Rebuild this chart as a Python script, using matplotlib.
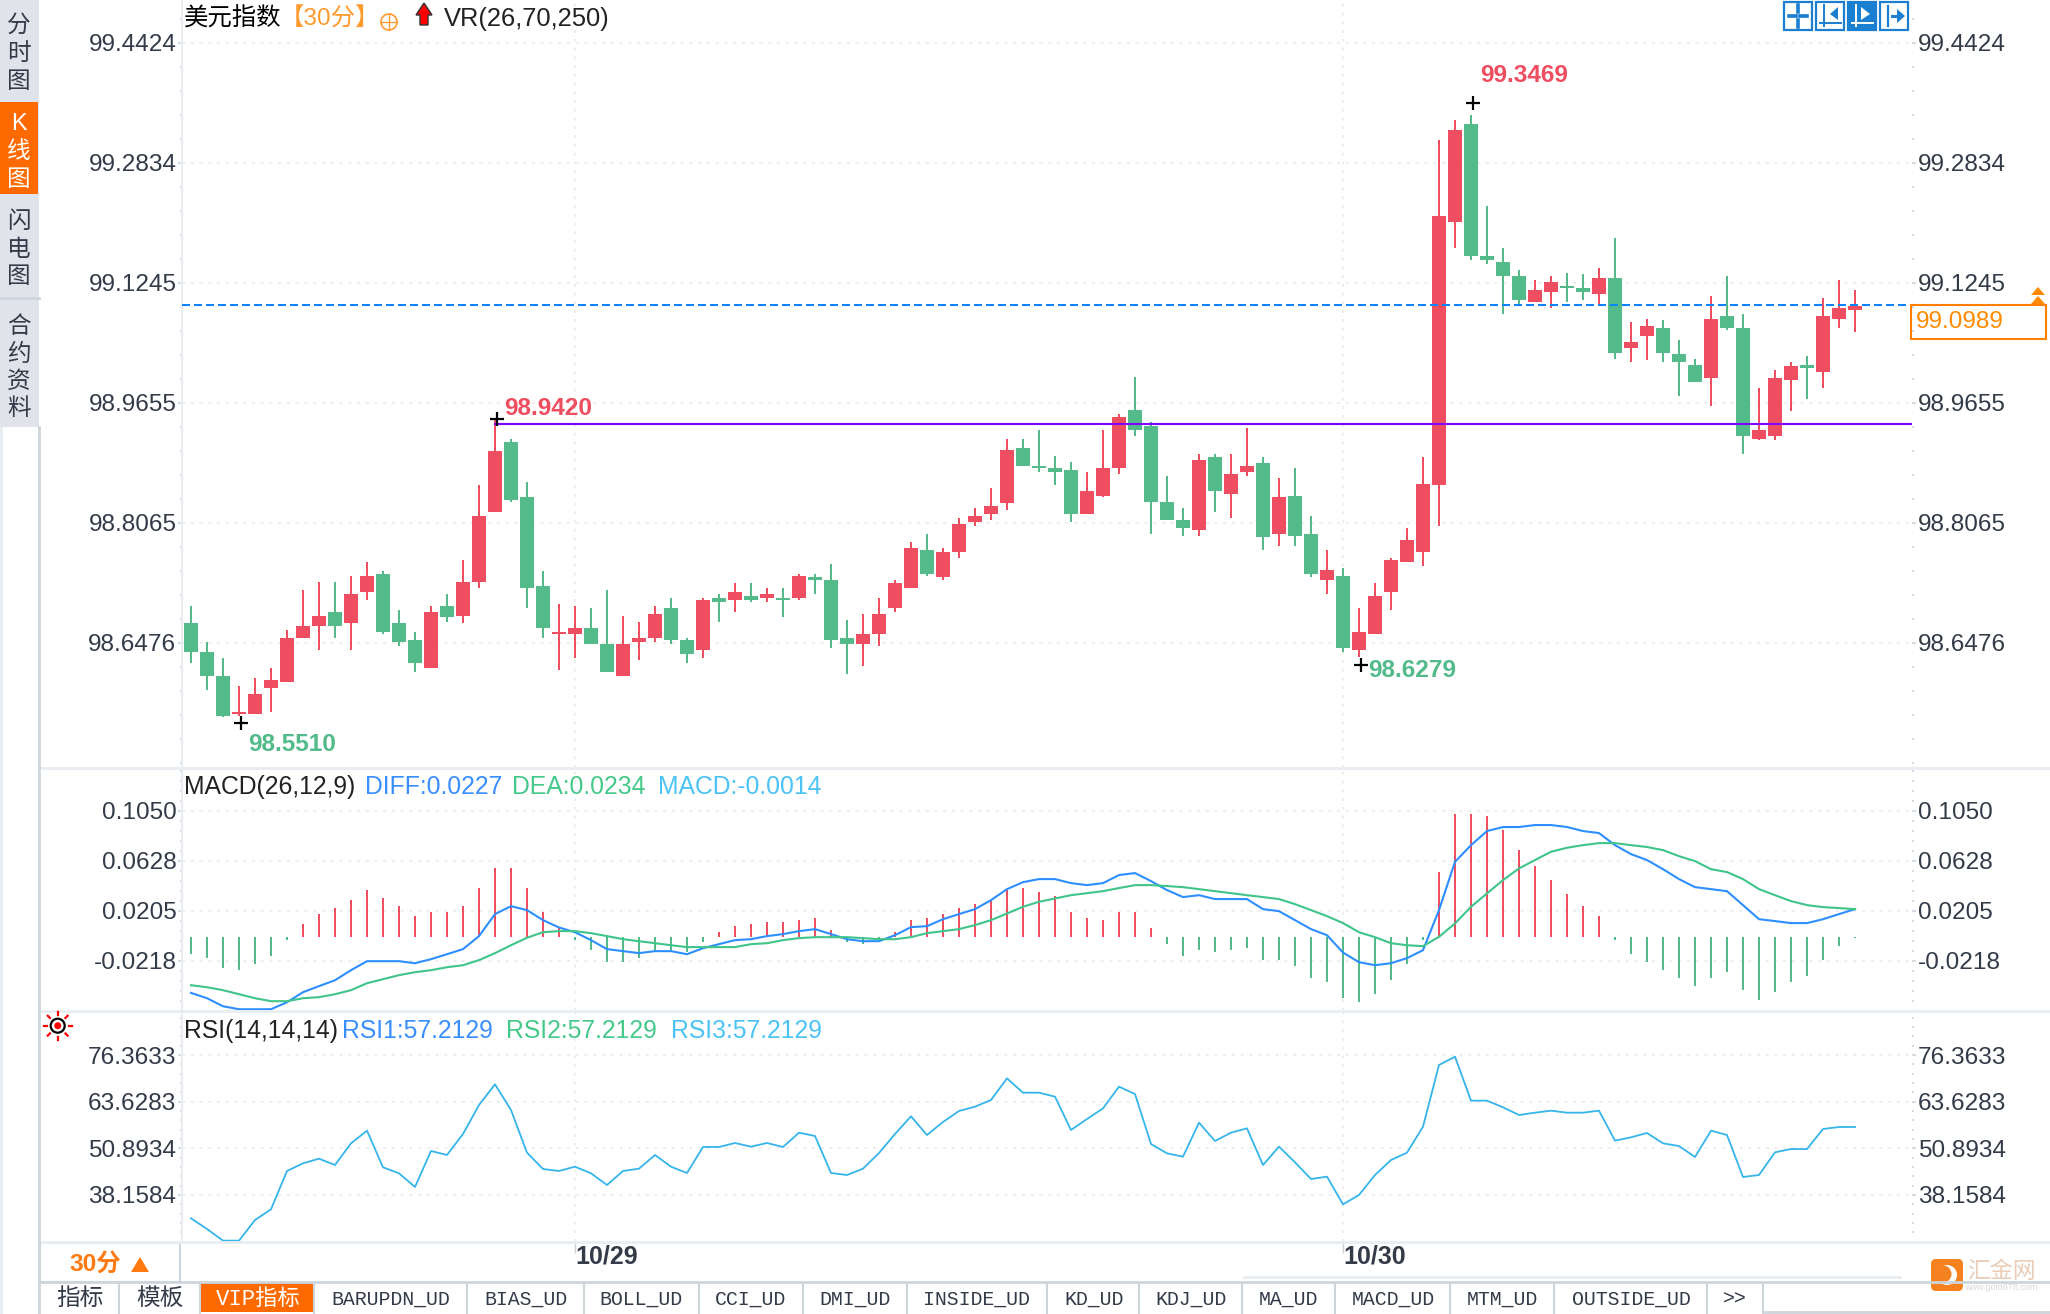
import matplotlib
matplotlib.use("Agg")
import matplotlib.pyplot as plt
import numpy as np
from matplotlib.patches import Rectangle, Circle, Polygon, FancyBboxPatch
from matplotlib.ticker import FixedLocator

plt.rcParams['font.family'] = ['Liberation Sans', 'Noto Sans CJK SC', 'DejaVu Sans']

# candles, 30 min bars
opens = [98.673,98.635,98.604,98.553,98.553,98.588,98.596,98.654,98.670,98.688,
         98.673,98.715,98.739,98.673,98.651,98.614,98.696,98.683,98.728,98.821,
         98.914,98.840,98.723,98.659,98.659,98.667,98.646,98.604,98.649,98.654,
         98.694,98.651,98.638,98.707,98.704,98.710,98.707,98.707,98.707,98.734,
         98.731,98.654,98.646,98.659,98.694,98.720,98.771,98.734,98.768,98.808,
         98.818,98.832,98.906,98.882,98.879,98.877,98.818,98.842,98.879,98.956,
         98.935,98.834,98.810,98.797,98.893,98.845,98.874,98.885,98.792,98.842,
         98.792,98.731,98.736,98.638,98.659,98.715,98.755,98.768,98.857,99.205,
         99.335,99.160,99.152,99.133,99.099,99.112,99.120,99.117,99.109,99.131,
         99.038,99.054,99.064,99.030,99.016,98.998,99.080,99.064,98.918,98.921,
         98.995,99.016,99.006,99.077,99.088]
closes = [98.635,98.604,98.551,98.556,98.580,98.598,98.654,98.670,98.683,98.670,
          98.712,98.736,98.662,98.649,98.620,98.688,98.681,98.728,98.816,98.901,
          98.837,98.720,98.667,98.662,98.667,98.646,98.609,98.646,98.654,98.686,
          98.651,98.633,98.704,98.702,98.715,98.704,98.712,98.704,98.736,98.731,
          98.651,98.646,98.659,98.686,98.726,98.773,98.739,98.768,98.805,98.816,
          98.829,98.903,98.882,98.879,98.874,98.818,98.848,98.879,98.946,98.930,
          98.834,98.810,98.800,98.890,98.848,98.871,98.882,98.787,98.840,98.789,
          98.739,98.744,98.641,98.662,98.710,98.757,98.784,98.858,99.213,99.327,
          99.160,99.154,99.133,99.101,99.115,99.125,99.117,99.112,99.131,99.032,
          99.046,99.067,99.032,99.019,98.993,99.077,99.064,98.921,98.929,98.998,
          99.014,99.011,99.080,99.091,99.093]
highs = [98.696,98.649,98.627,98.590,98.601,98.614,98.665,98.718,98.728,98.728,
         98.736,98.755,98.742,98.691,98.662,98.696,98.712,98.757,98.856,98.942,
         98.917,98.861,98.742,98.699,98.696,98.694,98.718,98.683,98.675,98.696,
         98.707,98.654,98.707,98.712,98.726,98.726,98.720,98.720,98.739,98.739,
         98.752,98.678,98.686,98.707,98.731,98.781,98.792,98.773,98.813,98.826,
         98.853,98.917,98.917,98.930,98.895,98.887,98.874,98.930,98.951,98.999,
         98.940,98.869,98.826,98.898,98.898,98.898,98.932,98.893,98.866,98.879,
         98.816,98.771,98.747,98.694,98.726,98.760,98.800,98.893,99.314,99.340,
         99.347,99.226,99.170,99.141,99.128,99.133,99.138,99.136,99.144,99.184,
         99.072,99.077,99.075,99.048,99.024,99.107,99.133,99.083,98.985,99.009,
         99.019,99.027,99.104,99.128,99.115]
lows = [98.620,98.585,98.549,98.551,98.553,98.556,98.596,98.654,98.638,98.654,
        98.638,98.704,98.659,98.643,98.609,98.614,98.675,98.673,98.720,98.821,
        98.834,98.694,98.654,98.612,98.627,98.646,98.609,98.604,98.625,98.649,
        98.646,98.620,98.627,98.675,98.688,98.702,98.702,98.681,98.704,98.712,
        98.641,98.606,98.617,98.643,98.688,98.720,98.736,98.731,98.760,98.802,
        98.810,98.824,98.882,98.874,98.856,98.808,98.818,98.840,98.871,98.922,
        98.792,98.810,98.789,98.789,98.821,98.813,98.869,98.771,98.776,98.776,
        98.734,98.712,98.635,98.628,98.659,98.691,98.755,98.749,98.802,99.170,
        99.154,99.149,99.083,99.096,99.099,99.091,99.099,99.101,99.096,99.024,
        99.019,99.022,99.019,98.974,98.993,98.961,99.062,98.897,98.916,98.916,
        98.955,98.971,98.985,99.064,99.059]

# MACD panel
diff = [-.0490,-.0535,-.0603,-.0628,-.0628,-.0628,-.0569,-.0484,-.0433,-.0383,
        -.0298,-.0222,-.0222,-.0222,-.0239,-.0205,-.0163,-.0120,-.0010,.0176,
        .0243,.0210,.0125,.0063,.0023,-.0044,-.0120,-.0137,-.0154,-.0137,
        -.0137,-.0163,-.0112,-.0078,-.0044,-.0036,-.0010,.0007,.0032,.0049,
        .0007,-.0036,-.0053,-.0053,-.0002,.0066,.0074,.0133,.0176,.0218,
        .0294,.0387,.0446,.0472,.0472,.0438,.0421,.0438,.0506,.0523,
        .0455,.0379,.0320,.0336,.0303,.0303,.0303,.0218,.0201,.0125,
        .0049,-.0002,-.0149,-.0230,-.0256,-.0239,-.0196,-.0129,.0210,.0618,
        .0759,.0878,.0912,.0912,.0929,.0929,.0912,.0878,.0861,.0759,
        .0683,.0633,.0556,.0472,.0404,.0387,.0370,.0252,.0133,.0117,
        .0100,.0100,.0133,.0176,.0218]
dea = [-.0425,-.0442,-.0467,-.0501,-.0535,-.0560,-.0560,-.0535,-.0526,-.0501,
       -.0467,-.0408,-.0374,-.0340,-.0315,-.0298,-.0273,-.0256,-.0213,-.0154,
       -.0087,-.0024,.0023,.0032,.0032,.0015,-.0010,-.0036,-.0053,-.0070,
       -.0087,-.0103,-.0103,-.0103,-.0103,-.0078,-.0070,-.0044,-.0027,-.0019,
       -.0019,-.0019,-.0027,-.0036,-.0036,-.0019,.0015,.0032,.0049,.0083,
       .0125,.0181,.0238,.0280,.0308,.0336,.0353,.0370,.0396,.0421,
       .0421,.0413,.0404,.0387,.0370,.0353,.0336,.0320,.0303,.0260,
       .0210,.0159,.0100,.0023,-.0019,-.0070,-.0087,-.0095,-.0016,.0097,
       .0238,.0351,.0463,.0562,.0633,.0703,.0737,.0759,.0776,.0776,
       .0759,.0743,.0717,.0666,.0624,.0556,.0531,.0472,.0387,.0336,
       .0286,.0252,.0235,.0227,.0218]
macd_hist = [-.0147,-.0180,-.0265,-.0282,-.0231,-.0164,-.0028,.0107,.0192,.0243,
             .0310,.0395,.0327,.0259,.0175,.0209,.0209,.0259,.0412,.0581,
             .0581,.0412,.0209,.0073,-.0028,-.0113,-.0214,-.0214,-.0180,-.0130,
             -.0130,-.0130,-.0045,.0039,.0090,.0107,.0124,.0124,.0141,.0158,
             .0056,-.0045,-.0062,-.0045,.0039,.0141,.0158,.0192,.0243,.0276,
             .0310,.0395,.0412,.0378,.0344,.0209,.0158,.0141,.0209,.0209,
             .0073,-.0062,-.0164,-.0113,-.0130,-.0113,-.0096,-.0197,-.0197,-.0248,
             -.0350,-.0384,-.0519,-.0553,-.0485,-.0367,-.0231,-.0028,.0547,.1038,
             .1038,.1021,.0902,.0733,.0598,.0479,.0361,.0259,.0175,-.0028,
             -.0147,-.0214,-.0282,-.0350,-.0417,-.0350,-.0299,-.0451,-.0536,-.0468,
             -.0384,-.0333,-.0197,-.0079,-.0011]

# RSI panel
rsi = [31.78,28.86,25.68,25.68,31.32,34.23,44.70,46.79,48.06,46.33,
       52.25,55.71,45.70,44.06,40.33,50.16,49.06,54.80,62.71,68.36,
       61.35,49.70,45.24,44.70,45.88,44.06,40.87,44.70,45.33,49.06,
       45.88,44.15,51.25,51.25,52.34,51.34,52.34,51.25,55.16,54.25,
       44.15,43.60,45.33,49.61,54.80,59.62,54.52,58.07,61.08,62.26,
       64.08,69.99,66.08,66.08,64.99,55.89,58.89,61.80,67.72,65.72,
       52.07,49.52,48.61,57.89,52.89,55.16,56.34,46.33,51.34,47.06,
       42.51,43.15,35.60,38.14,43.60,47.70,49.70,56.80,73.63,75.91,
       63.90,63.90,62.08,59.98,60.62,61.17,60.62,60.62,61.17,52.98,
       53.89,55.07,52.25,51.52,48.52,55.71,54.52,43.06,43.60,49.79,
       50.70,50.70,56.16,56.71,56.71]

price_ticks = [99.4424, 99.2834, 99.1245, 98.9655, 98.8065, 98.6476]
macd_ticks = [0.1050, 0.0628, 0.0205, -0.0218]
rsi_ticks = [76.3633, 63.6283, 50.8934, 38.1584]
day_idx = [24, 72]
day_labels = ["10/29", "10/30"]
side_tabs = [("分时图", [26, 54, 82]), ("K线图", [124, 152, 180]),
             ("闪电图", [222, 250, 277]), ("合约资料", [327, 355, 382, 409])]
cn_tabs = [("指标", 80), ("模板", 160)]
code_tabs = [("BARUPDN_UD", 391), ("BIAS_UD", 526), ("BOLL_UD", 641), ("CCI_UD", 751),
             ("DMI_UD", 855), ("INSIDE_UD", 976), ("KD_UD", 1094), ("KDJ_UD", 1191),
             ("MA_UD", 1288), ("MACD_UD", 1393), ("MTM_UD", 1502), ("OUTSIDE_UD", 1631),
             (">>", 1735)]
tab_seps = [119, 200, 314, 467, 584, 699, 803, 907, 1047, 1139, 1242, 1335, 1450, 1554, 1707, 1763]

RED = "#EE4E5F"
GREEN = "#53BA8A"
TEXT = "#333B49"
LINE = "#E8EDF2"
BORDER = "#CDD5DC"
ORANGE = "#FF6A00"
W, H = 2050, 1314
X0, X1 = 182, 1912


def panel(y0, y1):
    ax = fig.add_axes([X0 / W, 1 - y1 / H, (X1 - X0) / W, (y1 - y0) / H])
    ax.set_xlim((X0 - 191) / 16, (X1 - 191) / 16)
    for s in ["top", "bottom", "right"]:
        ax.spines[s].set_visible(False)
    ax.spines["left"].set_color(LINE)
    ax.spines["left"].set_linewidth(1.5)
    ax.set_xticks([])
    ax.set_facecolor("none")
    return ax


def style_y(ax, ticks, minor_step):
    ax.set_yticks(ticks, [f"{t:.4f}" for t in ticks])
    lo, hi = ax.get_ylim()
    start = ticks[0]
    minors = [start + minor_step * k for k in range(-12, 40)]
    ax.yaxis.set_minor_locator(FixedLocator([m for m in minors if lo < m < hi]))
    ax.tick_params(axis="y", which="major", left=True, right=True, labelleft=True, labelright=True,
                   length=3, width=1.4, color="#D5DBE1", labelsize=17.6, labelcolor=TEXT, pad=1)
    ax.tick_params(axis="y", which="minor", left=True, right=True, length=1.5, width=1.4, color="#D5DBE1")
    ax.grid(axis="y", which="major", color="#EEEEEE", linestyle=(0, (1.5, 3)), linewidth=1.4)
    ax.set_axisbelow(True)
    for d in day_idx:
        ax.axvline(d, color="#EEEEEE", linestyle=(0, (1.5, 3)), linewidth=1.4, zorder=0)


fig = plt.figure(figsize=(W / 100, H / 100), dpi=100, facecolor="white")

# main candle panel
ax1 = panel(0, 768)
ax1.set_ylim(98.4815, 99.4991)
style_y(ax1, price_ticks, -0.0318)
x = np.arange(len(opens))
o, c, hi, lo = map(np.array, (opens, closes, highs, lows))
col = [RED if cc >= oo else GREEN for oo, cc in zip(o, c)]
ax1.vlines(x, lo, hi, colors=col, linewidth=1.44, zorder=3)
ax1.bar(x, np.abs(c - o), bottom=np.minimum(o, c), width=0.875, color=col, linewidth=0, zorder=3)
ax1.plot([19, (X1 - 191) / 16], [98.9368, 98.9368], color="#8000FF", linewidth=1.5, zorder=4)
ax1.plot([(X0 - 191) / 16, (1910 - 191) / 16], [99.095, 99.095], color="#0A84FF", linewidth=1.44,
         linestyle=(0, (4, 2)), zorder=4)

# high/low flags
ax1.plot([3.1, 19.1, 73.1, 80.1], [98.5415, 98.9445, 98.6175, 99.3625], "+", color="black", ms=10, mew=1.6, zorder=5)
ax1.text(3.6, 98.5125, "98.5510", color=GREEN, fontsize=17.6, fontweight="bold", va="center")
ax1.text(19.55, 98.9585, "98.9420", color=RED, fontsize=17.6, fontweight="bold", va="center")
ax1.text(73.55, 98.6110, "98.6279", color=GREEN, fontsize=17.6, fontweight="bold", va="center")
ax1.text(80.55, 99.3995, "99.3469", color=RED, fontsize=17.6, fontweight="bold", va="center")

# MACD panel
ax2 = panel(768, 1011)
ax2.set_ylim(-0.0643, 0.1411)
style_y(ax2, macd_ticks, -0.00845)
hist = np.array(macd_hist)
base = -0.0016
hist_col = [RED if h > 0 else GREEN for h in hist]
ax2.vlines(x, base, base + hist, colors=hist_col, linewidth=1.44, zorder=2)
ax2.plot(x, diff, color="#2D8FFF", linewidth=1.5, zorder=3)
ax2.plot(x, dea, color="#3FC48A", linewidth=1.5, zorder=3)

# RSI panel
ax3 = panel(1011, 1242)
ax3.set_ylim(25.31, 88.38)
style_y(ax3, rsi_ticks, -2.547)
ax3.plot(x, rsi, color="#35B5EA", linewidth=1.3, zorder=3)
ax3.set_xticks(day_idx, day_labels)
ax3.tick_params(axis="x", length=8, width=1, color="#C8D0D8", labelsize=18, labelcolor=TEXT, pad=-6)
for t in ax3.get_xticklabels():
    t.set_ha("left")
    t.set_fontweight("bold")

# everything around the chart, in pixels
ui = fig.add_axes([0, 0, 1, 1], zorder=10)
ui.set_xlim(0, W)
ui.set_ylim(H, 0)
ui.axis("off")
ui.patch.set_alpha(0)

for y, xs in [(768, 40), (1011, 40), (1242, 40), (1282, 40)]:
    ui.plot([xs, W], [y, y], color=LINE if y != 1282 else BORDER, linewidth=2)
ui.plot([39, 39], [427, 1314], color=BORDER, linewidth=2)
ui.add_patch(Rectangle((0, 427), 3, 887, color=LINE, lw=0))
ui.add_patch(Rectangle((0, 0), 39, 427, color="#E0E3EA", lw=0))
ui.add_patch(Rectangle((0, 102), 38, 92, color=ORANGE, lw=0))
ui.plot([0, 39], [298, 298], color=BORDER, linewidth=2)
for name, ys in side_tabs:
    for ch, y in zip(name, ys):
        ui.text(19, y, ch, ha="center", va="center", fontsize=17,
                color="white" if name.startswith("K") else TEXT)

# title row
ui.text(184, 19, "美元指数", fontsize=17.6, color="black", va="center")
ui.text(280, 19, "【30分】", fontsize=17.6, color="#FF9A2E", va="center")
ui.add_patch(Circle((389, 22), 8, fill=False, edgecolor="#FF9A2E", linewidth=1.2))
ui.plot([381, 397], [22, 22], color="#FF9A2E", linewidth=1)
ui.plot([389, 389], [14, 30], color="#FF9A2E", linewidth=1)
ui.add_patch(Polygon([[416, 15], [424, 3], [432, 15], [428, 15], [428, 25], [420, 25], [420, 15]],
                     facecolor="#FF0000", edgecolor="#333333", linewidth=1))
ui.text(444, 19, "VR(26,70,250)", fontsize=18.4, color="#222222", va="center")

# toolbar icons
for i, ix in enumerate([1784, 1816, 1848, 1880]):
    filled = i == 2
    ui.add_patch(Rectangle((ix, 2), 28, 28, facecolor="#1A7FD0" if filled else "white",
                           edgecolor="#1A7FD0", linewidth=1.6))
    mark = "white" if filled else "#1A7FD0"
    if i == 0:
        ui.plot([ix + 5, ix + 12], [16, 16], color=mark, linewidth=2.6)
        ui.plot([ix + 16, ix + 23], [16, 16], color=mark, linewidth=2.6)
        ui.plot([ix + 14, ix + 14], [5, 12], color=mark, linewidth=2.6)
        ui.plot([ix + 14, ix + 14], [20, 27], color=mark, linewidth=2.6)
    elif i == 3:
        ui.plot([ix + 8, ix + 8], [6, 26], color=mark, linewidth=1.6)
        ui.plot([ix + 12, ix + 18], [16, 16], color=mark, linewidth=2.2)
        ui.add_patch(Polygon([[ix + 17, 9], [ix + 25, 16], [ix + 17, 23]], color=mark, lw=0))
    else:
        ui.plot([ix + 8, ix + 8], [5, 26], color=mark, linewidth=1.4)
        ui.plot([ix + 4, ix + 25], [23, 23], color=mark, linewidth=1.4)
        ui.add_patch(Polygon([[ix + 13, 7], [ix + 22, 14], [ix + 13, 20]] if i == 2
                             else [[ix + 22, 7], [ix + 14, 14], [ix + 22, 20]], color=mark, lw=0))

# last price box
ui.add_patch(Rectangle((1911, 305), 135, 34, fill=False, edgecolor="#FF8000", linewidth=1.5))
ui.text(1916, 322, "99.0989", fontsize=17.6, color="#FF8A00", va="center")
ui.add_patch(Polygon([[2031, 295], [2038, 287], [2045, 295]], color="#FF8A00", lw=0))
ui.add_patch(Polygon([[2031, 304], [2038, 296], [2045, 304]], color="#FF8A00", lw=0))

# panel captions
ui.text(184, 787, "MACD(26,12,9)", fontsize=17.8, color="#222222", va="center")
ui.text(365, 787, "DIFF:0.0227", fontsize=17.8, color="#3A8FFF", va="center")
ui.text(512, 787, "DEA:0.0234", fontsize=17.8, color="#45C98A", va="center")
ui.text(658, 787, "MACD:-0.0014", fontsize=17.8, color="#4CC3F5", va="center")
ui.text(184, 1031, "RSI(14,14,14)", fontsize=17.8, color="#222222", va="center")
ui.text(342, 1031, "RSI1:57.2129", fontsize=17.8, color="#3A8FFF", va="center")
ui.text(506, 1031, "RSI2:57.2129", fontsize=17.8, color="#45C98A", va="center")
ui.text(671, 1031, "RSI3:57.2129", fontsize=17.8, color="#4CC3F5", va="center")

# sun icon next to RSI
ui.add_patch(Circle((57.7, 1025.7), 7, fill=False, edgecolor="black", linewidth=1.6))
ui.add_patch(Circle((57.7, 1025.7), 3.5, color="#FF0000", lw=0))
for a in np.arange(0, 360, 45):
    ca, sa = np.cos(np.radians(a)), np.sin(np.radians(a))
    ui.plot([57.7 + 11 * ca, 57.7 + 14 * ca], [1025.7 + 11 * sa, 1025.7 + 14 * sa], color="#FF0000", linewidth=1.6)

# period box
ui.add_patch(Rectangle((40, 1243), 140, 39, facecolor="white", edgecolor=BORDER, linewidth=1.5))
ui.text(69, 1264, "30分", fontsize=17.6, color="#FF7A10", va="center", fontweight="bold")
ui.add_patch(Polygon([[131, 1272], [140, 1257], [149, 1272]], color="#FF7A10", lw=0))

# tab strip
ui.add_patch(Rectangle((200, 1282), 114.5, 30, color=ORANGE, lw=0))
for sx in tab_seps:
    ui.plot([sx, sx], [1283, 1314], color=BORDER, linewidth=1.5)
for name, cx in cn_tabs:
    ui.text(cx, 1299, name, ha="center", va="center", fontsize=17, color=TEXT)
ui.text(258, 1299, "VIP指标", ha="center", va="center", fontsize=16, color="white",
        family=["Liberation Mono", "Noto Sans CJK SC"])
for name, cx in code_tabs:
    ui.text(cx, 1299, name, ha="center", va="center", fontsize=14.3, color=TEXT, family="Liberation Mono")
ui.plot([1763, W], [1312, 1312], color=BORDER, linewidth=2)
ui.plot([1244, 1900], [1277, 1277], color=LINE, linewidth=2)

# watermark
ui.add_patch(FancyBboxPatch((1933, 1261), 28, 28, boxstyle="round,pad=2,rounding_size=5", color="#F5821F", lw=0))
ui.add_patch(Circle((1947, 1275), 10, color="white", lw=0))
ui.add_patch(Circle((1943, 1274), 8.5, color="#F5821F", lw=0))
ui.text(2001, 1272, "汇金网", ha="center", va="center", fontsize=16.5, color="#E9CDB8")
ui.text(2001, 1288, "www.gold678.com", ha="center", va="center", fontsize=6.5, color="#D9D9D9")

fig.savefig("out.png", dpi=100)
